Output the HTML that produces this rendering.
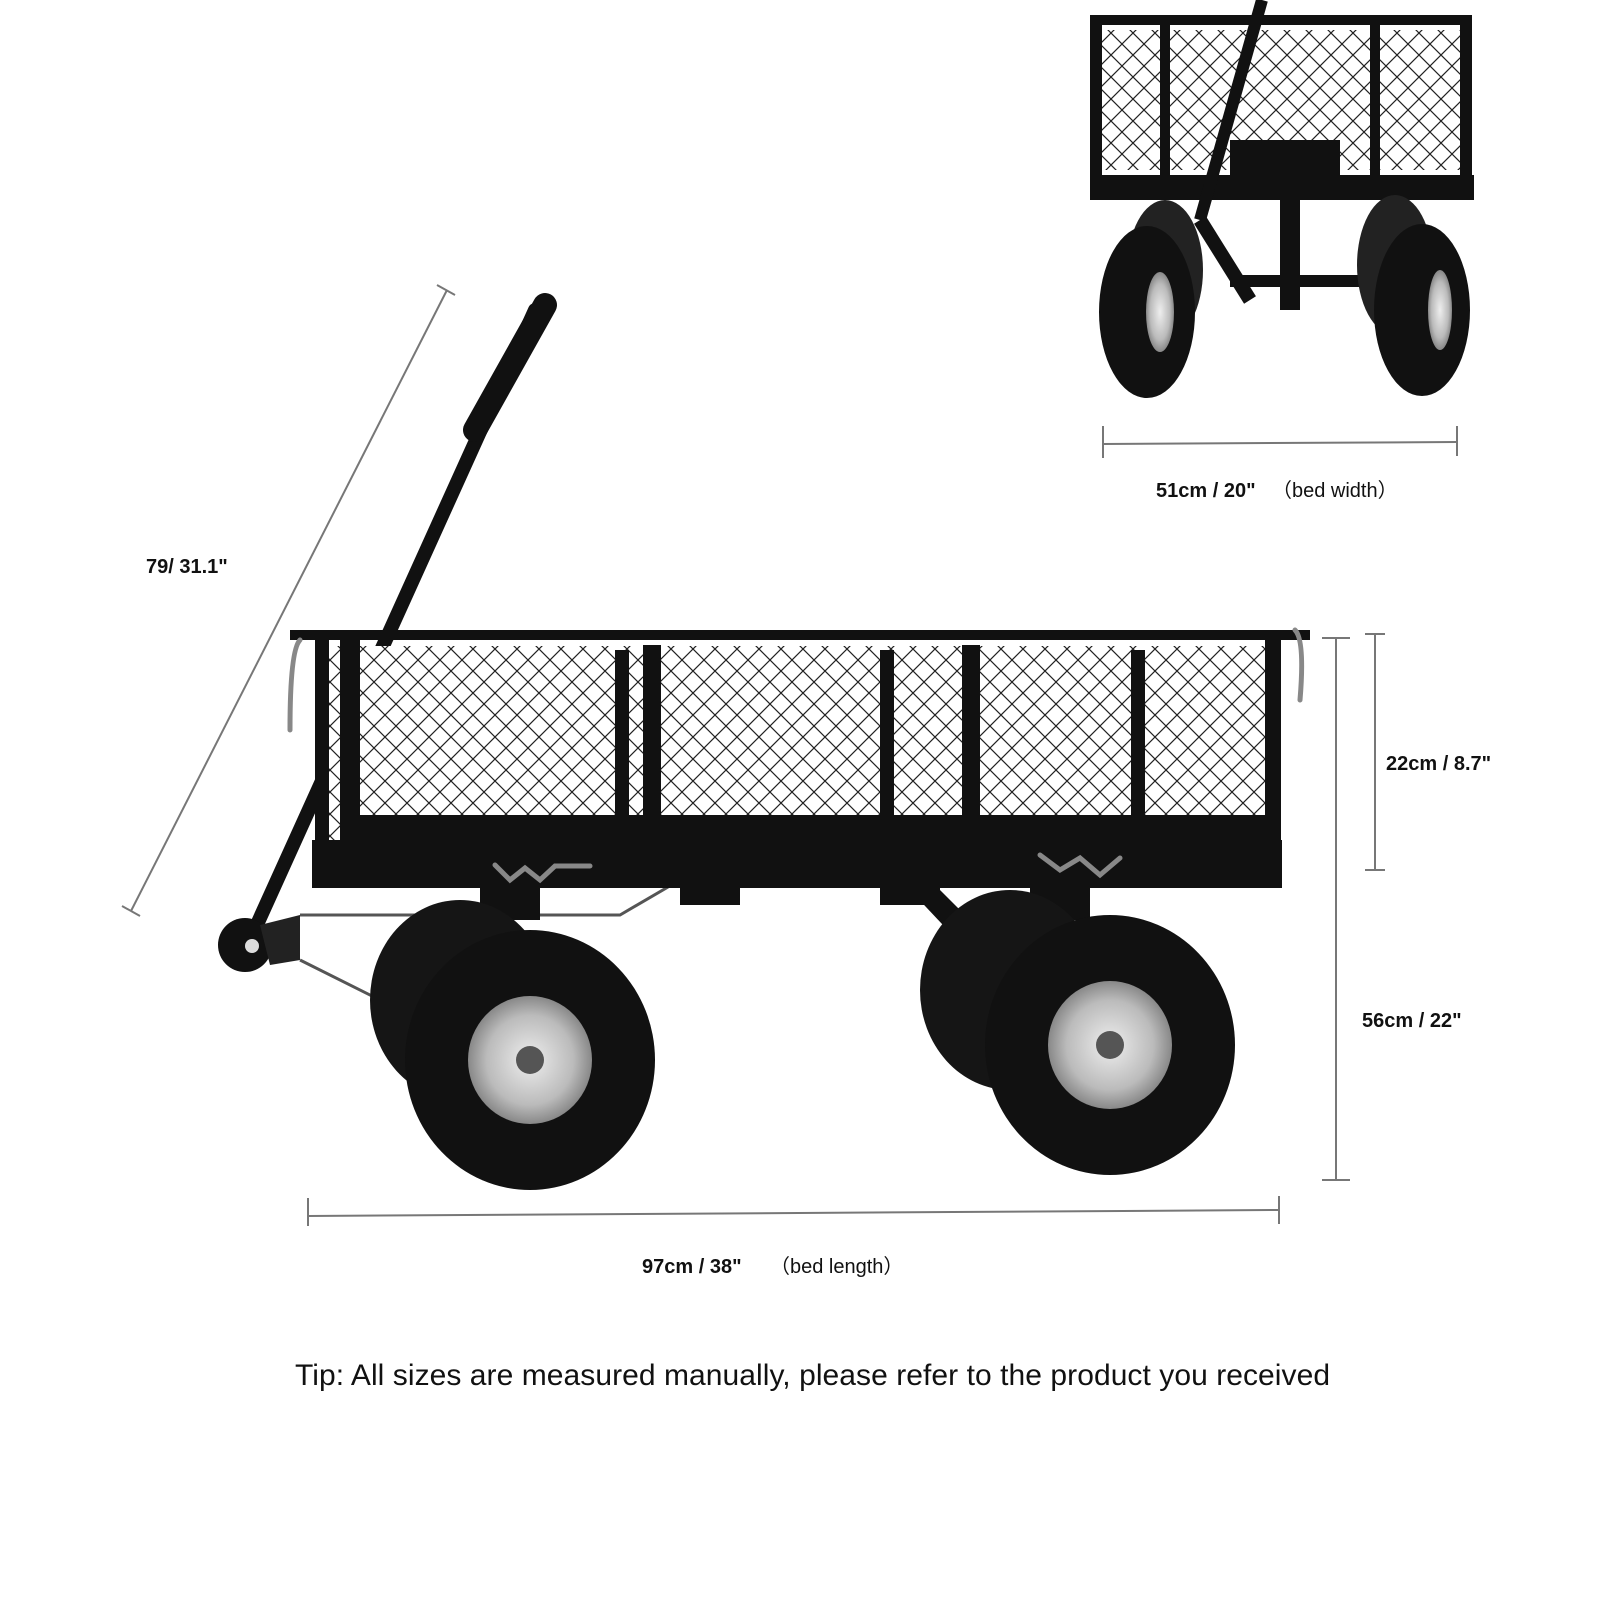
<!DOCTYPE html>
<html><head><meta charset="utf-8"><style>
html,body{margin:0;padding:0;background:#fff;}
svg{display:block}
text{font-family:"Liberation Sans",sans-serif;}
</style></head><body>
<svg width="1600" height="1600" viewBox="0 0 1600 1600" xmlns="http://www.w3.org/2000/svg">
<defs>
<pattern id="mesh" width="22" height="22" patternUnits="userSpaceOnUse">
<rect width="22" height="22" fill="#fff"/>
<path d="M0 0L22 22M22 0L0 22" stroke="#222" stroke-width="1.2"/>
</pattern>
<radialGradient id="hub"><stop offset="0" stop-color="#eee"/><stop offset="0.7" stop-color="#bbb"/><stop offset="1" stop-color="#888"/></radialGradient>
</defs>
<rect width="1600" height="1600" fill="#fff"/>

<g stroke="#777" stroke-width="2" fill="none">
<line x1="447" y1="290" x2="131" y2="911"/>
<line x1="437" y1="285" x2="455" y2="295"/>
<line x1="122" y1="906" x2="140" y2="916"/>
<line x1="1336" y1="638" x2="1336" y2="1180"/>
<line x1="1322" y1="638" x2="1350" y2="638"/>
<line x1="1322" y1="1180" x2="1350" y2="1180"/>
<line x1="1375" y1="634" x2="1375" y2="870"/>
<line x1="1365" y1="634" x2="1385" y2="634"/>
<line x1="1365" y1="870" x2="1385" y2="870"/>
<line x1="308" y1="1216" x2="1279" y2="1210"/>
<line x1="308" y1="1198" x2="308" y2="1226"/>
<line x1="1279" y1="1196" x2="1279" y2="1224"/>
<line x1="1103" y1="444" x2="1457" y2="442"/>
<line x1="1103" y1="426" x2="1103" y2="458"/>
<line x1="1457" y1="426" x2="1457" y2="456"/>
</g>

<g font-weight="bold" font-size="20" fill="#111">
<text x="146" y="573">79/ 31.1"</text>
<text x="1386" y="770">22cm / 8.7"</text>
<text x="1362" y="1027">56cm / 22"</text>
<text x="642" y="1273">97cm / 38"</text>
<text x="1156" y="497">51cm / 20"</text>
</g>
<text x="770" y="1273" font-size="20" fill="#111">（bed length）</text>
<text x="1272" y="497" font-size="20" fill="#111">（bed width）</text>
<text x="295" y="1385" font-size="30" fill="#111" textLength="1035">Tip: All sizes are measured manually, please refer to the product you received</text>

<g stroke="#111" fill="none" stroke-linecap="round">
<line x1="535" y1="310" x2="250" y2="940" stroke-width="14"/>
<path d="M545 305 L475 430" stroke-width="24"/>
</g>
<circle cx="245" cy="945" r="27" fill="#111"/>
<circle cx="252" cy="946" r="7" fill="#ddd"/>
<path d="M260 925 L300 915 L300 960 L270 965" fill="#222"/>
<path d="M300 915 L620 915 L680 880 M300 960 L420 1020" stroke="#555" stroke-width="3" fill="none"/>

<rect x="318" y="646" width="963" height="200" fill="url(#mesh)"/>
<g fill="#111">
<rect x="290" y="630" width="1020" height="10"/>
<rect x="312" y="840" width="970" height="48"/>
<rect x="315" y="640" width="14" height="210"/>
<rect x="340" y="640" width="20" height="210"/>
<rect x="615" y="650" width="14" height="190"/>
<rect x="643" y="645" width="18" height="205"/>
<rect x="880" y="650" width="14" height="190"/>
<rect x="962" y="645" width="18" height="205"/>
<rect x="1131" y="650" width="14" height="190"/>
<rect x="1265" y="640" width="16" height="210"/>
<rect x="355" y="815" width="910" height="25"/>
<rect x="480" y="880" width="60" height="40"/>
<rect x="680" y="880" width="60" height="25"/>
<rect x="880" y="880" width="60" height="25"/>
<rect x="1030" y="880" width="60" height="40"/>
<path d="M910 890 L940 890 L1010 960 L990 975 Z"/>
</g>
<g stroke="#888" stroke-width="5" fill="none" stroke-linecap="round">
<path d="M300 640 Q290 650 290 730"/>
<path d="M1295 630 Q1305 640 1300 700"/>
<path d="M495 865 L510 880 L525 868 L540 880 L555 866 L590 866"/>
<path d="M1040 855 L1060 870 L1080 858 L1100 875 L1120 858"/>
</g>

<g>
<ellipse cx="460" cy="1000" rx="90" ry="100" fill="#151515"/>
<ellipse cx="1010" cy="990" rx="90" ry="100" fill="#151515"/>
<ellipse cx="530" cy="1060" rx="125" ry="130" fill="#111"/>
<ellipse cx="530" cy="1060" rx="62" ry="64" fill="url(#hub)"/>
<circle cx="530" cy="1060" r="14" fill="#555"/>
<ellipse cx="1110" cy="1045" rx="125" ry="130" fill="#111"/>
<ellipse cx="1110" cy="1045" rx="62" ry="64" fill="url(#hub)"/>
<circle cx="1110" cy="1045" r="14" fill="#555"/>
</g>

<rect x="1100" y="30" width="370" height="140" fill="url(#mesh)"/>
<g fill="#111">
<rect x="1090" y="15" width="380" height="10"/>
<rect x="1090" y="15" width="12" height="185"/>
<rect x="1460" y="15" width="12" height="185"/>
<rect x="1090" y="175" width="384" height="25"/>
<rect x="1230" y="140" width="110" height="35"/>
<rect x="1160" y="25" width="10" height="150"/>
<rect x="1370" y="25" width="10" height="150"/>
<rect x="1280" y="200" width="20" height="110"/>
<rect x="1230" y="275" width="150" height="12"/>
</g>
<line x1="1262" y1="0" x2="1200" y2="220" stroke="#111" stroke-width="12"/>
<line x1="1200" y1="220" x2="1250" y2="300" stroke="#111" stroke-width="14"/>
<ellipse cx="1165" cy="270" rx="38" ry="70" fill="#222"/>
<ellipse cx="1395" cy="265" rx="38" ry="70" fill="#222"/>
<ellipse cx="1147" cy="312" rx="48" ry="86" fill="#111"/>
<ellipse cx="1160" cy="312" rx="14" ry="40" fill="url(#hub)"/>
<ellipse cx="1422" cy="310" rx="48" ry="86" fill="#111"/>
<ellipse cx="1440" cy="310" rx="12" ry="40" fill="url(#hub)"/>
</svg>
</body></html>
